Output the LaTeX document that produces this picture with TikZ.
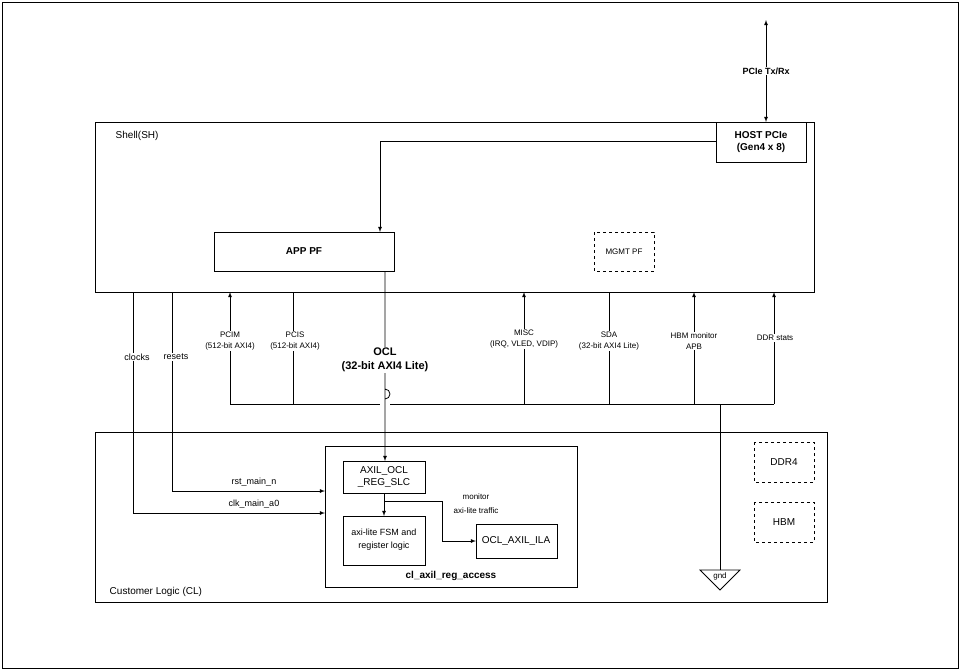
\documentclass[tikz,border=0pt]{standalone}
\usepackage{fontspec}
\setmainfont{Liberation Sans}
\begin{document}
\begin{tikzpicture}[x=1pt,y=-1pt,
  box/.style={draw,thick,inner sep=0},
  lab/.style={font=\fontsize{9}{11}\selectfont,align=center,fill=white,inner sep=1pt},
  sm/.style={font=\fontsize{8}{11}\selectfont,align=center,fill=white,inner sep=1pt},
  arr/.style={thick,-latex},
  line width=0.8pt]
\useasboundingbox (0,0) rectangle (960,670);
\draw (2,2) rectangle (958,668);
% shell
\draw (95,122) rectangle (814,292);
\node[anchor=west,font=\fontsize{10}{12}\selectfont] (sh) at (112,136) {Shell(SH)};
\draw[fill=white] (716,122) rectangle (806,162);
\node[font=\bfseries\fontsize{10}{12}\selectfont,align=center] (host) at (761,142) {HOST PCIe\\(Gen4 x 8)};
\coordinate (pt) at (766,20); \coordinate (pb) at (766,122);
\draw[latex-latex] (pt) -- (pb) node[midway,lab,font=\bfseries\fontsize{9}{11}\selectfont] {PCIe Tx/Rx};
\draw (214,232) rectangle (394,271);
\node[font=\bfseries\fontsize{10}{12}\selectfont] (app) at (304,251) {APP PF};
\draw[dashed] (594,232) rectangle (654,271);
\node[font=\fontsize{8}{10}\selectfont] (mgmt) at (624,252) {MGMT PF};
\draw[-latex] (716,141) -- (380,141) -- (380,232);
% CL
\draw (95,432) rectangle (827,602);
\node[anchor=west,font=\fontsize{10}{12}\selectfont] (cl) at (106,592) {Customer Logic (CL)};
\draw (325,446) rectangle (577,587);
\node[font=\bfseries\fontsize{10}{12}\selectfont] (cla) at (451,576) {cl\_axil\_reg\_access};
\draw (343,461) rectangle (425,493);
\node[font=\fontsize{10}{12}\selectfont,align=center] (slc) at (384,477) {AXIL\_OCL\\\_REG\_SLC};
\draw (343,516) rectangle (425,565);
\node[font=\fontsize{9}{13}\selectfont,align=center] (fsm) at (384,540) {axi-lite FSM and\\register logic};
\draw (476,524) rectangle (557,558);
\node[font=\fontsize{10}{12}\selectfont] (ila) at (516,541) {OCL\_AXIL\_ILA};
\draw[dashed] (754,442) rectangle (814,482);
\node[font=\fontsize{10}{12}\selectfont] (ddr) at (784,462) {DDR4};
\draw[dashed] (754,502) rectangle (814,542);
\node[font=\fontsize{10}{12}\selectfont] (hbm) at (784,522) {HBM};
\draw[-latex] (384,493) -- (384,516);
\draw[-latex] (384,501) -- (442,501) -- (442,541) -- (476,541);
\node[font=\fontsize{8}{14}\selectfont,align=center] (mon) at (476,504) {monitor\\axi-lite traffic};
% clocks / resets
\draw[-latex] (133,292) -- (133,513) -- (325,513);
\draw[-latex] (172,292) -- (172,491) -- (325,491);
\node[lab] at (137,357) {clocks};
\node[lab] at (176,357) {resets};
\node[font=\fontsize{9}{11}\selectfont] at (254,482) {rst\_main\_n};
\node[font=\fontsize{9}{11}\selectfont] at (254,504) {clk\_main\_a0};
% OCL
\draw[-latex] (385,271) -- (385,399) arc (90:-90:5) -- (385,461);
\node[font=\bfseries\fontsize{11}{14}\selectfont,align=center,fill=white,inner sep=1pt] at (385,360) {OCL\\(32-bit AXI4 Lite)};
% bus
\draw (230,404) -- (380,404); \draw (390,404) -- (774,404);
\draw[-latex] (230,404) -- (230,292);
\draw (293,404) -- (293,292);
\draw[-latex] (524,404) -- (524,292);
\draw (609,404) -- (609,292);
\draw[-latex] (694,404) -- (694,292);
\draw[-latex] (774,404) -- (774,292);
\node[sm] at (230,341) {PCIM\\(512-bit AXI4)};
\node[sm] at (295,341) {PCIS\\(512-bit AXI4)};
\node[sm] at (524,339) {MISC\\(IRQ, VLED, VDIP)};
\node[sm] at (609,341) {SDA\\(32-bit AXI4 Lite)};
\node[sm] at (694,341) {HBM monitor\\APB};
\node[sm] at (775,338) {DDR stats};
\draw (720,404) -- (720,570);
\draw (700,570) -- (740,570) -- (720,590) -- cycle;
\node[font=\fontsize{8}{10}\selectfont] (gnd) at (720,576) {gnd};
\end{tikzpicture}
\end{document}
